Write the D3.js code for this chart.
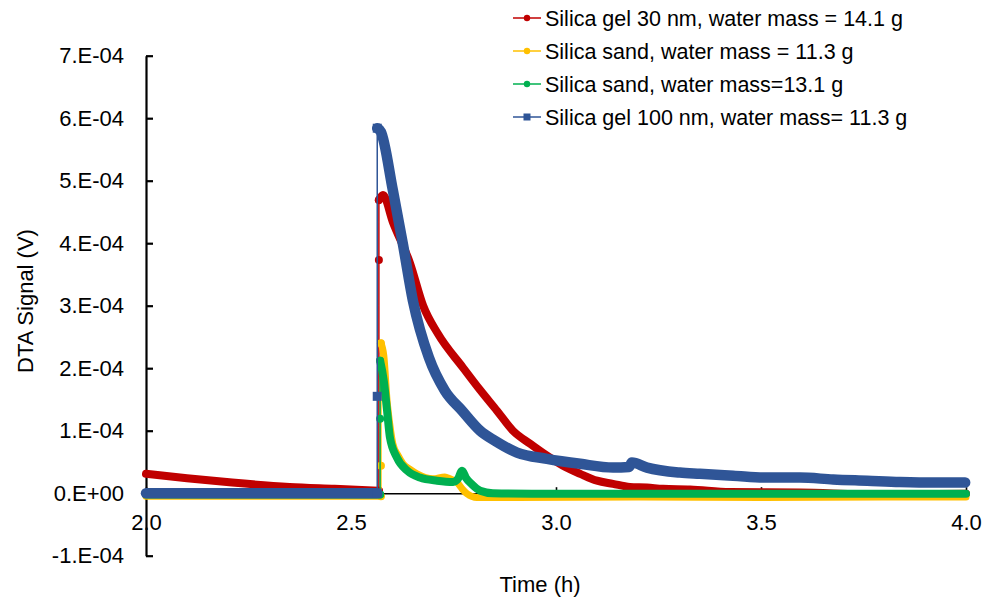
<!DOCTYPE html>
<html><head><meta charset="utf-8">
<script src="https://cdn.jsdelivr.net/npm/d3@7"></script>
<style>
body{margin:0;background:#fff}
svg text{font-family:Arial,"Liberation Sans",sans-serif;fill:#000}
</style>
</head><body>
<svg id="c" width="984" height="605"></svg>
<script>
// ---------- data ----------
const seriesNames = [
  "Silica gel 30 nm, water mass = 14.1 g",
  "Silica sand, water mass = 11.3 g",
  "Silica sand, water mass=13.1 g",
  "Silica gel 100 nm, water mass= 11.3 g"
];
const xTickValues = [2.0, 2.5, 3.0, 3.5, 4.0];
const xTickLabels = ["2.0", "2.5", "3.0", "3.5", "4.0"];
const yTickValues = [-1e-4, 0, 1e-4, 2e-4, 3e-4, 4e-4, 5e-4, 6e-4, 7e-4];
const yTickLabels = ["-1.E-04", "0.E+00", "1.E-04", "2.E-04", "3.E-04", "4.E-04", "5.E-04", "6.E-04", "7.E-04"];

// Silica gel 30 nm (red)
const redTime  = [2.00, 2.10, 2.21, 2.35, 2.46, 2.568, 2.568, 2.568, 2.578, 2.602, 2.644, 2.676, 2.712, 2.773, 2.815, 2.856, 2.895, 2.937, 2.978, 3.017, 3.059, 3.100, 3.139, 3.180, 3.222, 3.261, 3.327, 3.424, 3.595, 3.790, 4.000];
const redValue = [3.1e-5, 2.4e-5, 1.7e-5, 1.0e-5, 0.7e-5, 0.4e-5, 3.73e-4, 4.69e-4, 4.77e-4, 4.34e-4, 3.68e-4, 3.00e-4, 2.55e-4, 2.01e-4, 1.65e-4, 1.32e-4, 1.00e-4, 0.79e-4, 0.60e-4, 0.44e-4, 0.31e-4, 0.20e-4, 0.15e-4, 0.10e-4, 0.09e-4, 0.07e-4, 0.06e-4, 0.02e-4, 0.01e-4, -0.02e-4, -0.01e-4];

// Silica sand 11.3 g (yellow)
const yellowTime  = [2.00, 2.30, 2.573, 2.573, 2.573, 2.580, 2.588, 2.595, 2.602, 2.615, 2.627, 2.644, 2.661, 2.700, 2.729, 2.741, 2.759, 2.771, 2.783, 2.807, 2.900, 3.200, 3.500, 3.800, 4.000];
const yellowValue = [-0.05e-4, -0.05e-4, -0.05e-4, 0.44e-4, 2.40e-4, 2.20e-4, 1.48e-4, 1.08e-4, 0.79e-4, 0.60e-4, 0.47e-4, 0.38e-4, 0.31e-4, 0.23e-4, 0.26e-4, 0.23e-4, 0.17e-4, 0.07e-4, -0.01e-4, -0.07e-4, -0.07e-4, -0.06e-4, -0.07e-4, -0.06e-4, -0.06e-4];

// Silica sand 13.1 g (green)
const greenTime  = [2.00, 2.30, 2.571, 2.571, 2.571, 2.580, 2.588, 2.595, 2.612, 2.637, 2.668, 2.710, 2.749, 2.761, 2.771, 2.780, 2.795, 2.815, 2.846, 3.000, 3.300, 3.600, 4.000];
const greenValue = [-0.02e-4, -0.02e-4, -0.02e-4, 1.19e-4, 2.12e-4, 1.80e-4, 1.32e-4, 0.89e-4, 0.57e-4, 0.36e-4, 0.25e-4, 0.20e-4, 0.18e-4, 0.23e-4, 0.36e-4, 0.25e-4, 0.14e-4, 0.04e-4, 0.00, -0.01e-4, -0.01e-4, -0.01e-4, -0.01e-4];

// Silica gel 100 nm (blue)
const blueTime  = [2.00, 2.20, 2.40, 2.564, 2.564, 2.564, 2.573, 2.602, 2.627, 2.651, 2.690, 2.729, 2.771, 2.815, 2.851, 2.905, 2.978, 3.059, 3.139, 3.178, 3.185, 3.222, 3.302, 3.351, 3.432, 3.515, 3.595, 3.676, 3.759, 3.839, 3.920, 3.998];
const blueValue = [0.00, 0.00, 0.00, 0.00, 1.55e-4, 5.84e-4, 5.78e-4, 4.85e-4, 3.97e-4, 3.08e-4, 2.17e-4, 1.64e-4, 1.32e-4, 1.00e-4, 0.84e-4, 0.65e-4, 0.55e-4, 0.47e-4, 0.41e-4, 0.42e-4, 0.49e-4, 0.41e-4, 0.33e-4, 0.31e-4, 0.28e-4, 0.25e-4, 0.25e-4, 0.22e-4, 0.20e-4, 0.18e-4, 0.17e-4, 0.17e-4];

// ---------- styles ----------
const styles = [
  {color: "#C00000", width: 8, marker: "circle"},
  {color: "#FFC000", width: 7, marker: "circle"},
  {color: "#00B050", width: 8, marker: "circle"},
  {color: "#2F5597", width: 10.5, marker: "square"}
];
const series = [
  {t: redTime, v: redValue},
  {t: yellowTime, v: yellowValue},
  {t: greenTime, v: greenValue},
  {t: blueTime, v: blueValue}
];

const svg = d3.select("#c");
const x = d3.scaleLinear().domain([2, 4]).range([146, 966]);
const y = d3.scaleLinear().domain([-1e-4, 7e-4]).range([555.7, 55.7]);

const FONT = 22;

// x axis (at y = 0)
const gx = svg.append("g")
  .attr("transform", `translate(0,${y(0)})`)
  .call(d3.axisBottom(x).tickValues(xTickValues).tickFormat((d, i) => xTickLabels[i])
        .tickSize(-6).tickSizeOuter(0).tickPadding(21));
gx.attr("font-family", null).attr("font-size", null);
gx.selectAll("text").attr("font-size", FONT);
gx.select(".domain").attr("stroke", "#000").attr("stroke-width", 1.6);
gx.selectAll(".tick line").attr("stroke", "#000").attr("stroke-width", 1.6);

// y axis
const gy = svg.append("g")
  .attr("transform", `translate(${x(2)},0)`)
  .call(d3.axisLeft(y).tickValues(yTickValues).tickFormat((d, i) => yTickLabels[i])
        .tickSize(-7).tickSizeOuter(0).tickPadding(22));
gy.attr("font-family", null).attr("font-size", null);
gy.selectAll("text").attr("font-size", FONT);
gy.select(".domain").attr("stroke", "#000").attr("stroke-width", 2.2);
gy.selectAll(".tick line").attr("stroke", "#000").attr("stroke-width", 2.2);

// series
const thin = d3.line();
const thick = d3.line().curve(d3.curveMonotoneX);
series.forEach((s, k) => {
  const st = styles[k];
  const pts = s.t.map((t, i) => [x(t), y(s.v[i])]);
  const g = svg.append("g");
  g.append("path").attr("d", thin(pts)).attr("fill", "none")
    .attr("stroke", st.color).attr("stroke-width", 1.5);
  const runs = [];
  let cur = [pts[0]];
  for (let i = 1; i < pts.length; i++) {
    if (s.t[i] === s.t[i - 1]) { if (cur.length > 1) runs.push(cur); cur = [pts[i]]; }
    else cur.push(pts[i]);
  }
  if (cur.length > 1) runs.push(cur);
  runs.forEach(r => g.append("path").attr("d", thick(r)).attr("fill", "none")
    .attr("stroke", st.color).attr("stroke-width", st.width)
    .attr("stroke-linejoin", "round").attr("stroke-linecap", "round"));
  // markers only where the samples are isolated (the vertical jump)
  pts.forEach((p, i) => {
    const isolated = (i > 0 && s.t[i] === s.t[i - 1]) || (i < pts.length - 1 && s.t[i] === s.t[i + 1]);
    if (!isolated) return;
    if (st.marker === "square") {
      g.append("rect").attr("x", p[0] - 4.5).attr("y", p[1] - 4.5).attr("width", 9).attr("height", 9).attr("fill", st.color);
    } else {
      g.append("circle").attr("cx", p[0]).attr("cy", p[1]).attr("r", 4).attr("fill", st.color);
    }
  });
});

// axis titles
svg.append("text").attr("x", 540).attr("y", 592).attr("text-anchor", "middle")
  .attr("font-size", FONT).text("Time (h)");
svg.append("text").attr("transform", "translate(33,301) rotate(-90)").attr("text-anchor", "middle")
  .attr("font-size", FONT).text("DTA Signal (V)");

// legend
const legendY = [18, 51, 84, 117];
seriesNames.forEach((name, k) => {
  const st = styles[k];
  const g = svg.append("g").attr("transform", `translate(0,${legendY[k]})`);
  g.append("line").attr("x1", 513).attr("x2", 541).attr("y1", 0).attr("y2", 0)
    .attr("stroke", st.color).attr("stroke-width", 1.5);
  if (st.marker === "square") g.append("rect").attr("x", 523.5).attr("y", -3.5).attr("width", 7).attr("height", 7).attr("fill", st.color);
  else g.append("circle").attr("cx", 527).attr("cy", 0).attr("r", 3.2).attr("fill", st.color);
  g.append("text").attr("x", 545).attr("y", 0).attr("dy", "0.35em").attr("font-size", 21.5).text(name);
});
</script>
</body></html>
